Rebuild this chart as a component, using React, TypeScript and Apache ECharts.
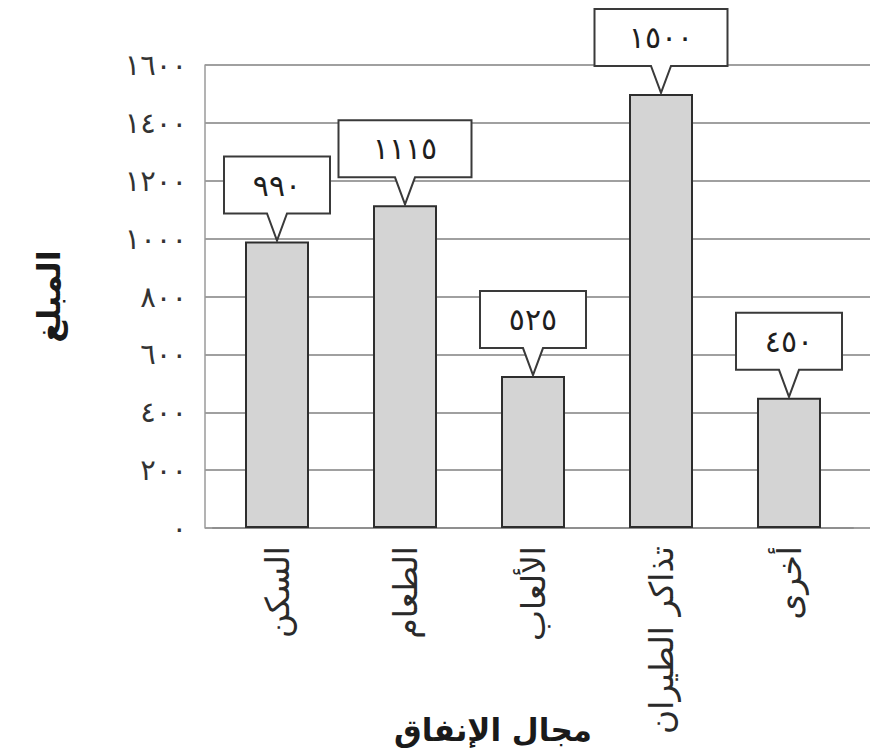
import React, { useEffect, useRef } from "react";
import * as echarts from "echarts";

const categories = ["السكن", "الطعام", "الألعاب", "تذاكر الطيران", "أخرى"];
const amounts = [990, 1115, 525, 1500, 450];
const yMin = 0;
const yMax = 1600;
const yInterval = 200;
const yAxisName = "المبلغ";
const xAxisName = "مجال الإنفاق";

const AR_DIGITS = "٠١٢٣٤٥٦٧٨٩";
const toArabic = (n: number | string) =>
  String(n).replace(/\d/g, (d) => AR_DIGITS[Number(d)]);

const FONT = "DejaVu Sans";

export default function App() {
  const ref = useRef<HTMLDivElement>(null);

  useEffect(() => {
    if (!ref.current) return;
    const chart = echarts.init(ref.current, null, { renderer: "svg" });

    const option: any = {
      animation: false,
      backgroundColor: "#ffffff",
      grid: [
        {
          left: 213,
          top: 65,
          width: 640,
          height: 463,
          containLabel: false,
          outerBoundsMode: "none",
        },
        {
          left: 205,
          top: 65,
          right: 0,
          height: 463,
          containLabel: false,
          outerBoundsMode: "none",
        },
      ],
      xAxis: [
        {
          type: "category",
          gridIndex: 0,
          data: categories,
          axisLine: { show: true, lineStyle: { color: "#8f8f8f", width: 2 } },
          axisTick: { show: false },
          axisLabel: {
            rotate: 90,
            margin: 18,
            fontSize: 33,
            color: "#2a2a2a",
            fontFamily: FONT,
          },
          name: xAxisName,
          nameLocation: "middle",
          nameGap: 186,
          nameMoveOverlap: false,
          nameTextStyle: {
            fontSize: 31,
            fontWeight: "bold",
            color: "#1a1a1a",
            fontFamily: FONT,
            padding: [0, 80, 0, 0],
          },
        },
        { type: "value", gridIndex: 1, show: false, min: 0, max: 1 },
      ],
      yAxis: [
        {
          type: "value",
          gridIndex: 0,
          min: yMin,
          max: yMax,
          interval: yInterval,
          show: false,
          splitLine: { show: false },
        },
        {
          type: "value",
          gridIndex: 1,
          min: yMin,
          max: yMax,
          interval: yInterval,
          axisLine: { show: true, lineStyle: { color: "#9a9a9a", width: 1.5 } },
          axisTick: { show: false },
          splitLine: { show: true, lineStyle: { color: "#a0a0a0", width: 2 } },
          axisLabel: {
            margin: 18,
            fontSize: 29,
            color: "#333",
            fontFamily: FONT,
            formatter: (v: number) => toArabic(v),
          },
          name: yAxisName,
          nameLocation: "middle",
          nameRotate: 90,
          nameGap: 140,
          nameMoveOverlap: false,
          nameTextStyle: {
            fontSize: 32,
            fontWeight: "bold",
            color: "#1a1a1a",
            fontFamily: FONT,
          },
        },
      ],
      series: [
        {
          type: "bar",
          xAxisIndex: 0,
          yAxisIndex: 0,
          data: amounts,
          barWidth: 64,
          itemStyle: {
            color: "#d4d4d4",
            borderColor: "#2e2e2e",
            borderWidth: 2,
          },
          z: 3,
        },
        {
          type: "custom",
          xAxisIndex: 0,
          yAxisIndex: 0,
          clip: false,
          z: 5,
          data: amounts.map((v, i) => [i, v]),
          renderItem: (params: any, api: any) => {
            const idx = api.value(0);
            const val = api.value(1);
            const pt = api.coord([idx, val]);
            const label = toArabic(val);
            const w = 25 + 27 * label.length;
            const h = 57;
            const tipY = pt[1] - 1;
            const bottom = pt[1] - 28;
            const top = bottom - h;
            const cx = pt[0];
            const left = cx - w / 2;
            const right = cx + w / 2;
            return {
              type: "group",
              children: [
                {
                  type: "polygon",
                  shape: {
                    points: [
                      [left, top],
                      [right, top],
                      [right, bottom],
                      [cx + 10, bottom],
                      [cx, tipY],
                      [cx - 10, bottom],
                      [left, bottom],
                    ],
                  },
                  style: { fill: "#ffffff", stroke: "#3a3a3a", lineWidth: 2 },
                },
                {
                  type: "text",
                  x: cx,
                  y: top + h / 2,
                  style: {
                    text: label,
                    fontSize: 30,
                    fontFamily: FONT,
                    fill: "#1e1e1e",
                    align: "center",
                    verticalAlign: "middle",
                  },
                },
              ],
            };
          },
        },
      ],
    };

    chart.setOption(option);
    return () => chart.dispose();
  }, []);

  return (
    <div
      ref={ref}
      style={{ position: "absolute", left: 0, top: 0, width: 870, height: 756 }}
    />
  );
}
